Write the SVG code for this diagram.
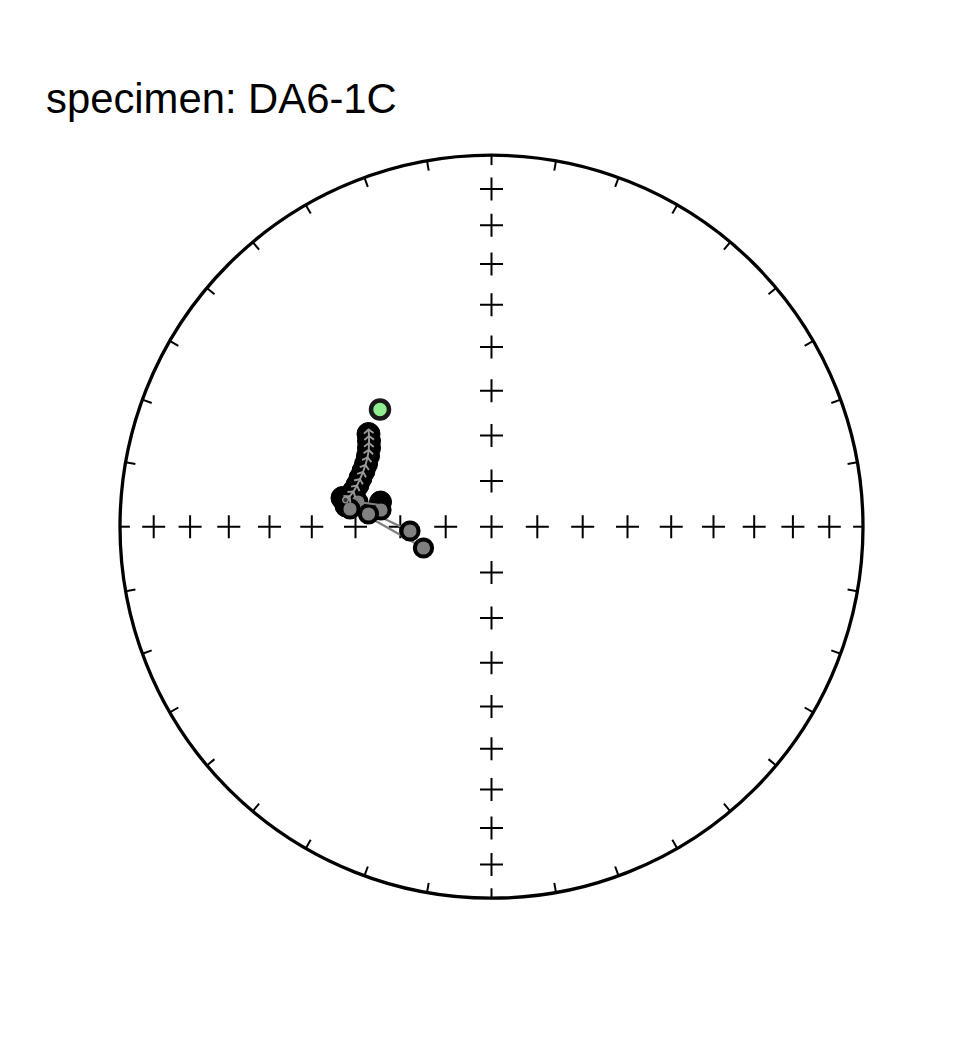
<svg xmlns="http://www.w3.org/2000/svg" width="960" height="1044" viewBox="0 0 960 1044">
<style>
.title{font-family:"Liberation Sans",Arial,sans-serif;font-size:41.8px;fill:#000}
.net{fill:none;stroke:#000}
.tk{stroke:#000;stroke-width:2;fill:none}
.pl{stroke:#000;stroke-width:2;fill:none}
.blk{fill:#000;stroke:#000;stroke-width:1}
.gdot{fill:#808080;stroke:#000;stroke-width:4}
.gline{fill:none;stroke:#808080;stroke-width:2.2}
</style>
<defs>
<line id="tick" class="tk" x1="0" y1="-371.5" x2="0" y2="-361.6"/>
<path id="plus" class="pl" d="M-11.5,0H11.5M0,-11.5V11.5"/>
<marker id="chev" markerUnits="userSpaceOnUse" markerWidth="12" markerHeight="12" viewBox="-6 -6 12 12" refX="0" refY="0" orient="auto">
<path d="M-3.8,-4.8L0,0L-3.8,4.8" fill="none" stroke="#9a9a9a" stroke-width="1.9"/>
</marker>
<marker id="ring" markerUnits="userSpaceOnUse" markerWidth="10" markerHeight="10" viewBox="-5 -5 10 10" refX="0" refY="0">
<circle r="2.8" fill="#333" stroke="#9a9a9a" stroke-width="1.3"/>
</marker>
</defs>
<rect width="960" height="1044" fill="#fff"/>
<text class="title" x="46" y="113">specimen: DA6-1C</text>
<g id="net" transform="translate(491.5,526.7)">
<circle class="net" r="371.5" stroke-width="3.3"/>
<g id="ticks">
<use href="#tick"/><use href="#tick" transform="rotate(10)"/><use href="#tick" transform="rotate(20)"/><use href="#tick" transform="rotate(30)"/><use href="#tick" transform="rotate(40)"/><use href="#tick" transform="rotate(50)"/><use href="#tick" transform="rotate(60)"/><use href="#tick" transform="rotate(70)"/><use href="#tick" transform="rotate(80)"/><use href="#tick" transform="rotate(90)"/><use href="#tick" transform="rotate(100)"/><use href="#tick" transform="rotate(110)"/><use href="#tick" transform="rotate(120)"/><use href="#tick" transform="rotate(130)"/><use href="#tick" transform="rotate(140)"/><use href="#tick" transform="rotate(150)"/><use href="#tick" transform="rotate(160)"/><use href="#tick" transform="rotate(170)"/><use href="#tick" transform="rotate(180)"/><use href="#tick" transform="rotate(190)"/><use href="#tick" transform="rotate(200)"/><use href="#tick" transform="rotate(210)"/><use href="#tick" transform="rotate(220)"/><use href="#tick" transform="rotate(230)"/><use href="#tick" transform="rotate(240)"/><use href="#tick" transform="rotate(250)"/><use href="#tick" transform="rotate(260)"/><use href="#tick" transform="rotate(270)"/><use href="#tick" transform="rotate(280)"/><use href="#tick" transform="rotate(290)"/><use href="#tick" transform="rotate(300)"/><use href="#tick" transform="rotate(310)"/><use href="#tick" transform="rotate(320)"/><use href="#tick" transform="rotate(330)"/><use href="#tick" transform="rotate(340)"/><use href="#tick" transform="rotate(350)"/>
</g>
<g id="crosses">
<use href="#plus" x="0" y="0"/>
<use href="#plus" x="0" y="-337.8"/><use href="#plus" x="0" y="-301.4"/><use href="#plus" x="0" y="-262.7"/><use href="#plus" x="0" y="-222.0"/><use href="#plus" x="0" y="-179.7"/><use href="#plus" x="0" y="-136.0"/><use href="#plus" x="0" y="-91.2"/><use href="#plus" x="0" y="-45.8"/>
<use href="#plus" x="0" y="337.8"/><use href="#plus" x="0" y="301.4"/><use href="#plus" x="0" y="262.7"/><use href="#plus" x="0" y="222.0"/><use href="#plus" x="0" y="179.7"/><use href="#plus" x="0" y="136.0"/><use href="#plus" x="0" y="91.2"/><use href="#plus" x="0" y="45.8"/>
<use href="#plus" x="337.8" y="0"/><use href="#plus" x="301.4" y="0"/><use href="#plus" x="262.7" y="0"/><use href="#plus" x="222.0" y="0"/><use href="#plus" x="179.7" y="0"/><use href="#plus" x="136.0" y="0"/><use href="#plus" x="91.2" y="0"/><use href="#plus" x="45.8" y="0"/>
<use href="#plus" x="-337.8" y="0"/><use href="#plus" x="-301.4" y="0"/><use href="#plus" x="-262.7" y="0"/><use href="#plus" x="-222.0" y="0"/><use href="#plus" x="-179.7" y="0"/><use href="#plus" x="-136.0" y="0"/><use href="#plus" x="-91.2" y="0"/><use href="#plus" x="-45.8" y="0"/>
</g>
</g>
<g id="data">
<g id="chain-points">
<circle class="blk" cx="368.5" cy="434" r="11.5"/>
<circle class="blk" cx="369" cy="441" r="11.5"/>
<circle class="blk" cx="369" cy="448" r="11.5"/>
<circle class="blk" cx="368" cy="456" r="11.5"/>
<circle class="blk" cx="366" cy="464" r="11.5"/>
<circle class="blk" cx="363.5" cy="471" r="11.5"/>
<circle class="blk" cx="360.5" cy="478" r="11.5"/>
<circle class="blk" cx="357.5" cy="485" r="11.5"/>
<circle class="blk" cx="354" cy="491" r="11.5"/>
<circle class="blk" cx="350" cy="496" r="11.5"/>
<circle class="blk" cx="342.5" cy="498" r="11.5"/>
<circle class="blk" cx="346" cy="506" r="11"/>
<circle class="blk" cx="380.5" cy="502" r="11"/>
</g>
<g id="connectors">
<polyline class="gline" points="370,512 410,531"/>
<polyline class="gline" points="367,516 423.5,548"/>
</g>
<g id="gray-points">
<circle class="gdot" cx="358" cy="502" r="8.6"/>
<circle class="gdot" cx="350" cy="509" r="8.6"/>
<circle class="gdot" cx="381" cy="510" r="8.6"/>
<circle class="gdot" cx="368.5" cy="514" r="8.6"/>
<circle class="gdot" cx="410" cy="531" r="8.6"/>
<circle class="gdot" cx="423.5" cy="548" r="8.6"/>
</g>
<g id="path-line">
<polyline class="gline" points="358,502 380,505"/>
<polyline fill="none" stroke="#9a9a9a" stroke-width="1.9" marker-start="url(#ring)" marker-mid="url(#chev)" marker-end="url(#chev)" points="345.5,500 349.5,496.5 353.5,491.5 357,485.5 360,479 363,472 365.5,465 367.5,457.5 368.7,450 369,443 369,436 368.5,429.5"/>
</g>
<g id="first-point">
<circle cx="380" cy="409.5" r="9" fill="#90ee90" stroke="#1a1a1a" stroke-width="4.5"/>
</g>
</g>
</svg>
